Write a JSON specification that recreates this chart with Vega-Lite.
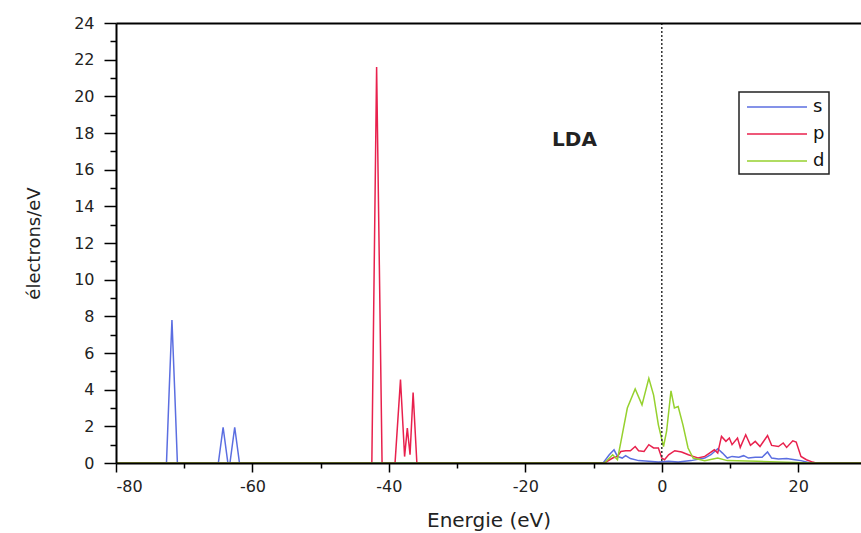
{
  "$schema": "https://vega.github.io/schema/vega-lite/v6.json",
  "width": 745,
  "height": 440,
  "autosize": {"type": "none"},
  "padding": {"left": 116, "top": 23, "right": 0, "bottom": 70},
  "background": "white",
  "config": {
    "view": {"stroke": null},
    "axis": {
      "labelFont": "DejaVu Sans",
      "labelFontSize": 16,
      "labelColor": "#222",
      "titleFont": "DejaVu Sans",
      "titleFontWeight": "normal",
      "titleColor": "#222",
      "domainColor": "black",
      "domainWidth": 2,
      "tickColor": "black",
      "tickWidth": 1.5,
      "grid": false,
      "labelOverlap": false
    }
  },
  "resolve": {"axis": {"x": "independent", "y": "independent"}},
  "layer": [
    {
      "data": {
        "values": [
          {"E": -80, "D": 0, "orb": "s"},
          {"E": -72.6, "D": 0, "orb": "s"},
          {"E": -72.2, "D": 4.0, "orb": "s"},
          {"E": -71.8, "D": 7.8, "orb": "s"},
          {"E": -71.4, "D": 4.0, "orb": "s"},
          {"E": -71.0, "D": 0, "orb": "s"},
          {"E": -65.0, "D": 0, "orb": "s"},
          {"E": -64.3, "D": 1.95, "orb": "s"},
          {"E": -63.6, "D": 0, "orb": "s"},
          {"E": -63.3, "D": 0, "orb": "s"},
          {"E": -62.6, "D": 1.95, "orb": "s"},
          {"E": -61.9, "D": 0, "orb": "s"},
          {"E": -8.6, "D": 0, "orb": "s"},
          {"E": -7.7, "D": 0.45, "orb": "s"},
          {"E": -7.0, "D": 0.72, "orb": "s"},
          {"E": -6.5, "D": 0.36, "orb": "s"},
          {"E": -5.8, "D": 0.27, "orb": "s"},
          {"E": -5.3, "D": 0.4, "orb": "s"},
          {"E": -4.6, "D": 0.24, "orb": "s"},
          {"E": -3.4, "D": 0.13, "orb": "s"},
          {"E": -1.9, "D": 0.09, "orb": "s"},
          {"E": -0.5, "D": 0.05, "orb": "s"},
          {"E": 1.0, "D": 0.09, "orb": "s"},
          {"E": 2.4, "D": 0.05, "orb": "s"},
          {"E": 4.3, "D": 0.13, "orb": "s"},
          {"E": 6.3, "D": 0.27, "orb": "s"},
          {"E": 7.2, "D": 0.45, "orb": "s"},
          {"E": 8.2, "D": 0.78, "orb": "s"},
          {"E": 8.9, "D": 0.54, "orb": "s"},
          {"E": 9.6, "D": 0.27, "orb": "s"},
          {"E": 10.3, "D": 0.36, "orb": "s"},
          {"E": 11.3, "D": 0.31, "orb": "s"},
          {"E": 12.0, "D": 0.4, "orb": "s"},
          {"E": 12.7, "D": 0.27, "orb": "s"},
          {"E": 13.7, "D": 0.31, "orb": "s"},
          {"E": 14.7, "D": 0.31, "orb": "s"},
          {"E": 15.5, "D": 0.6, "orb": "s"},
          {"E": 16.1, "D": 0.27, "orb": "s"},
          {"E": 17.1, "D": 0.22, "orb": "s"},
          {"E": 18.3, "D": 0.24, "orb": "s"},
          {"E": 19.5, "D": 0.18, "orb": "s"},
          {"E": 20.4, "D": 0.13, "orb": "s"},
          {"E": 21.6, "D": 0.02, "orb": "s"},
          {"E": 22.5, "D": 0, "orb": "s"},
          {"E": 29.2, "D": 0, "orb": "s"},

          {"E": -80, "D": 0, "orb": "p"},
          {"E": -42.5, "D": 0, "orb": "p"},
          {"E": -42.15, "D": 10.8, "orb": "p"},
          {"E": -41.8, "D": 21.6, "orb": "p"},
          {"E": -41.4, "D": 10.8, "orb": "p"},
          {"E": -41.0, "D": 0, "orb": "p"},
          {"E": -39.1, "D": 0, "orb": "p"},
          {"E": -38.3, "D": 4.55, "orb": "p"},
          {"E": -37.7, "D": 0.35, "orb": "p"},
          {"E": -37.3, "D": 1.9, "orb": "p"},
          {"E": -36.9, "D": 0.45, "orb": "p"},
          {"E": -36.45, "D": 3.85, "orb": "p"},
          {"E": -35.9, "D": 0, "orb": "p"},
          {"E": -8.4, "D": 0, "orb": "p"},
          {"E": -7.2, "D": 0.27, "orb": "p"},
          {"E": -6.5, "D": 0.36, "orb": "p"},
          {"E": -6.0, "D": 0.63, "orb": "p"},
          {"E": -5.3, "D": 0.67, "orb": "p"},
          {"E": -4.6, "D": 0.67, "orb": "p"},
          {"E": -3.9, "D": 0.9, "orb": "p"},
          {"E": -3.4, "D": 0.67, "orb": "p"},
          {"E": -2.6, "D": 0.63, "orb": "p"},
          {"E": -1.9, "D": 1.0, "orb": "p"},
          {"E": -1.2, "D": 0.82, "orb": "p"},
          {"E": -0.5, "D": 0.82, "orb": "p"},
          {"E": 0.0, "D": 0.27, "orb": "p"},
          {"E": 0.4, "D": 0.18, "orb": "p"},
          {"E": 1.0, "D": 0.45, "orb": "p"},
          {"E": 1.9, "D": 0.67, "orb": "p"},
          {"E": 2.9, "D": 0.6, "orb": "p"},
          {"E": 3.9, "D": 0.45, "orb": "p"},
          {"E": 4.6, "D": 0.36, "orb": "p"},
          {"E": 5.3, "D": 0.27, "orb": "p"},
          {"E": 6.3, "D": 0.36, "orb": "p"},
          {"E": 7.0, "D": 0.54, "orb": "p"},
          {"E": 7.7, "D": 0.72, "orb": "p"},
          {"E": 8.2, "D": 0.54, "orb": "p"},
          {"E": 8.75, "D": 1.45, "orb": "p"},
          {"E": 9.4, "D": 1.18, "orb": "p"},
          {"E": 9.9, "D": 1.36, "orb": "p"},
          {"E": 10.3, "D": 1.0, "orb": "p"},
          {"E": 11.1, "D": 1.36, "orb": "p"},
          {"E": 11.5, "D": 0.85, "orb": "p"},
          {"E": 12.3, "D": 1.54, "orb": "p"},
          {"E": 13.0, "D": 0.96, "orb": "p"},
          {"E": 13.7, "D": 1.18, "orb": "p"},
          {"E": 14.4, "D": 0.9, "orb": "p"},
          {"E": 15.5, "D": 1.5, "orb": "p"},
          {"E": 16.1, "D": 0.96, "orb": "p"},
          {"E": 17.1, "D": 0.9, "orb": "p"},
          {"E": 17.8, "D": 1.09, "orb": "p"},
          {"E": 18.3, "D": 0.85, "orb": "p"},
          {"E": 19.2, "D": 1.21, "orb": "p"},
          {"E": 19.7, "D": 1.14, "orb": "p"},
          {"E": 20.4, "D": 0.36, "orb": "p"},
          {"E": 21.2, "D": 0.18, "orb": "p"},
          {"E": 22.1, "D": 0.05, "orb": "p"},
          {"E": 22.6, "D": 0, "orb": "p"},
          {"E": 29.2, "D": 0, "orb": "p"},

          {"E": -80, "D": 0, "orb": "d"},
          {"E": -8.4, "D": 0, "orb": "d"},
          {"E": -7.2, "D": 0.45, "orb": "d"},
          {"E": -6.5, "D": 0.18, "orb": "d"},
          {"E": -5.8, "D": 1.54, "orb": "d"},
          {"E": -5.05, "D": 3.0, "orb": "d"},
          {"E": -3.9, "D": 4.04, "orb": "d"},
          {"E": -2.9, "D": 3.17, "orb": "d"},
          {"E": -1.9, "D": 4.62, "orb": "d"},
          {"E": -1.2, "D": 3.7, "orb": "d"},
          {"E": -0.5, "D": 2.08, "orb": "d"},
          {"E": 0.25, "D": 0.9, "orb": "d"},
          {"E": 0.7, "D": 1.72, "orb": "d"},
          {"E": 1.35, "D": 3.93, "orb": "d"},
          {"E": 1.85, "D": 3.0, "orb": "d"},
          {"E": 2.4, "D": 3.08, "orb": "d"},
          {"E": 3.1, "D": 2.08, "orb": "d"},
          {"E": 3.85, "D": 0.82, "orb": "d"},
          {"E": 4.6, "D": 0.27, "orb": "d"},
          {"E": 6.3, "D": 0.13, "orb": "d"},
          {"E": 8.2, "D": 0.27, "orb": "d"},
          {"E": 9.6, "D": 0.13, "orb": "d"},
          {"E": 14.0, "D": 0.09, "orb": "d"},
          {"E": 20.7, "D": 0.02, "orb": "d"},
          {"E": 22.0, "D": 0, "orb": "d"},
          {"E": 29.2, "D": 0, "orb": "d"}
        ]
      },
      "mark": {"type": "line", "strokeWidth": 1.5, "clip": true},
      "encoding": {
        "x": {
          "field": "E", "type": "quantitative",
          "scale": {"domain": [-80, 29.2], "nice": false, "zero": false},
          "axis": {
            "orient": "bottom",
            "title": "Energie (eV)",
            "titleFontSize": 20,
            "titlePadding": 16,
            "values": [-80, -60, -40, -20, 0, 20],
            "labelExpr": "toString(datum.value)",
            "tickSize": 9,
            "labelPadding": 6,
            "zindex": 2
          }
        },
        "y": {
          "field": "D", "type": "quantitative",
          "scale": {"domain": [0, 24], "nice": false},
          "axis": {
            "orient": "left",
            "title": "électrons/eV",
            "titleFontSize": 18,
            "titlePadding": 30,
            "values": [0, 2, 4, 6, 8, 10, 12, 14, 16, 18, 20, 22, 24],
            "tickSize": 12,
            "labelPadding": 10,
            "zindex": 2
          }
        },
        "color": {
          "field": "orb", "type": "nominal",
          "scale": {"domain": ["s", "p", "d"], "range": ["#5b6ee1", "#e8214d", "#96d12e"]},
          "legend": {
            "title": null,
            "orient": "none",
            "legendX": 623,
            "legendY": 69,
            "symbolType": "M-0.7,0H5.3",
            "symbolSize": 400,
            "symbolStrokeWidth": 1.5,
            "labelOffset": 48,
            "labelFont": "DejaVu Sans",
            "labelFontSize": 18,
            "labelColor": "#111",
            "strokeColor": "#222",
            "fillColor": "white",
            "padding": 4,
            "rowPadding": 7,
            "encode": {"legend": {"update": {"strokeWidth": {"value": 1.5}}}}
          }
        }
      }
    },
    {
      "data": {"values": [{"E": 0}]},
      "mark": {"type": "rule", "color": "#333", "strokeWidth": 1.5, "strokeDash": [2, 2]},
      "encoding": {
        "x": {
          "field": "E", "type": "quantitative",
          "axis": {"orient": "bottom", "values": [-70, -50, -30, -10, 10], "labels": false, "domain": false, "tickSize": 5, "title": null, "zindex": 2}
        }
      }
    },
    {
      "data": {"values": [{"E": -12.8, "D": 17.6, "label": "LDA"}]},
      "mark": {"type": "text", "font": "DejaVu Sans", "fontWeight": "bold", "fontSize": 20, "color": "#222", "baseline": "middle", "align": "center"},
      "encoding": {
        "x": {"field": "E", "type": "quantitative", "axis": {"orient": "top", "labels": false, "ticks": false, "title": null, "domainWidth": 2, "zindex": 2}},
        "y": {
          "field": "D", "type": "quantitative",
          "axis": {"orient": "left", "values": [1, 3, 5, 7, 9, 11, 13, 15, 17, 19, 21, 23], "labels": false, "domain": false, "tickSize": 6, "title": null, "zindex": 2}
        },
        "text": {"field": "label"}
      }
    }
  ]
}
